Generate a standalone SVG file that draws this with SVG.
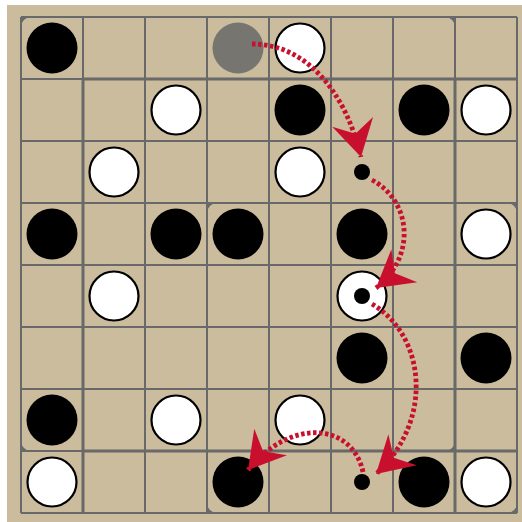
<svg xmlns="http://www.w3.org/2000/svg" width="522" height="522" viewBox="0 0 522 522">
<style>
.grid line{stroke:#696969;stroke-width:2}
.grid line.thick{stroke-width:3}
.corner{fill:#696969}
.black{fill:#000}
.white{fill:#fff;stroke:#000;stroke-width:2.2}
.ghost{fill:#767570}
.dot{fill:#000}
.arrow{fill:none;stroke:#c8102e;stroke-width:4.8;stroke-dasharray:3.5 2.5;marker-end:url(#head)}
</style>
<defs>
<marker id="head" markerUnits="userSpaceOnUse" viewBox="-38 -22 40 44" markerWidth="40" markerHeight="44" refX="0" refY="0" orient="auto">
<path d="M0,0 L-36,-21 L-24,0 L-36,21 Z" fill="#c8102e"/>
</marker>
</defs>
<rect x="0" y="0" width="522" height="522" fill="#fff"/>
<rect x="7" y="5" width="515" height="517" fill="#cabc9d"/>
<g id="board" class="grid">
<line x1="21" y1="17" x2="21" y2="513"/>
<line x1="83" y1="17" x2="83" y2="79"/>
<line class="thick" x1="83" y1="79" x2="83" y2="513"/>
<line x1="145" y1="17" x2="145" y2="513"/>
<line x1="207" y1="17" x2="207" y2="513"/>
<line x1="269" y1="17" x2="269" y2="513"/>
<line x1="331" y1="17" x2="331" y2="513"/>
<line x1="393" y1="17" x2="393" y2="513"/>
<line x1="455" y1="17" x2="455" y2="79"/>
<line class="thick" x1="455" y1="79" x2="455" y2="513"/>
<line x1="517" y1="17" x2="517" y2="513"/>
<line x1="21" y1="17" x2="517" y2="17"/>
<line x1="21" y1="79" x2="83" y2="79"/>
<line class="thick" x1="83" y1="79" x2="517" y2="79"/>
<line x1="21" y1="141" x2="517" y2="141"/>
<line x1="21" y1="203" x2="517" y2="203"/>
<line x1="21" y1="265" x2="517" y2="265"/>
<line x1="21" y1="327" x2="517" y2="327"/>
<line x1="21" y1="389" x2="517" y2="389"/>
<line x1="21" y1="451" x2="83" y2="451"/>
<line class="thick" x1="83" y1="451" x2="517" y2="451"/>
<line x1="21" y1="513" x2="517" y2="513"/>
<path class="corner" d="M21,17 h10 a10,10 0 0 0 -10,10 z"/>
<path class="corner" d="M207,203 h10 a10,10 0 0 0 -10,10 z"/>
<path class="corner" d="M455,17 v10 a10,10 0 0 0 -10,-10 z"/>
<path class="corner" d="M517,203 v10 a10,10 0 0 0 -10,-10 z"/>
<path class="corner" d="M21,451 v-10 a10,10 0 0 0 10,10 z"/>
<path class="corner" d="M207,513 v-10 a10,10 0 0 0 10,10 z"/>
<path class="corner" d="M455,451 h-10 a10,10 0 0 0 10,-10 z"/>
<path class="corner" d="M517,513 h-10 a10,10 0 0 0 10,-10 z"/>
</g>
<g id="stones">
<circle class="black" cx="52" cy="48" r="25.5"/>
<circle class="ghost" cx="238" cy="48" r="25.5"/>
<circle class="white" cx="300" cy="48" r="24.5"/>
<circle class="white" cx="176" cy="110" r="24.5"/>
<circle class="black" cx="300" cy="110" r="25.5"/>
<circle class="black" cx="424" cy="110" r="25.5"/>
<circle class="white" cx="486" cy="110" r="24.5"/>
<circle class="white" cx="114" cy="172" r="24.5"/>
<circle class="white" cx="300" cy="172" r="24.5"/>
<circle class="black" cx="52" cy="234" r="25.5"/>
<circle class="black" cx="176" cy="234" r="25.5"/>
<circle class="black" cx="238" cy="234" r="25.5"/>
<circle class="black" cx="362" cy="234" r="25.5"/>
<circle class="white" cx="486" cy="234" r="24.5"/>
<circle class="white" cx="114" cy="296" r="24.5"/>
<circle class="white" cx="362" cy="296" r="24.5"/>
<circle class="black" cx="362" cy="358" r="25.5"/>
<circle class="black" cx="486" cy="358" r="25.5"/>
<circle class="black" cx="52" cy="420" r="25.5"/>
<circle class="white" cx="176" cy="420" r="24.5"/>
<circle class="white" cx="300" cy="420" r="24.5"/>
<circle class="white" cx="52" cy="482" r="24.5"/>
<circle class="black" cx="238" cy="482" r="25.5"/>
<circle class="black" cx="424" cy="482" r="25.5"/>
<circle class="white" cx="486" cy="482" r="24.5"/>
</g>
<g id="points">
<circle class="dot" cx="362" cy="172" r="8"/>
<circle class="dot" cx="362" cy="296" r="8"/>
<circle class="dot" cx="362" cy="482" r="8"/>
</g>
<g id="connectors">
<path class="arrow" d="M252,44 C305,44 345,90 361,157"/>
<path class="arrow" d="M372,180 C410,200 418,255 376,288"/>
<path class="arrow" d="M372,304 C425,335 435,420 376,474"/>
<path class="arrow" d="M363,472 C352,422 290,418 248,470"/>
</g>
</svg>
